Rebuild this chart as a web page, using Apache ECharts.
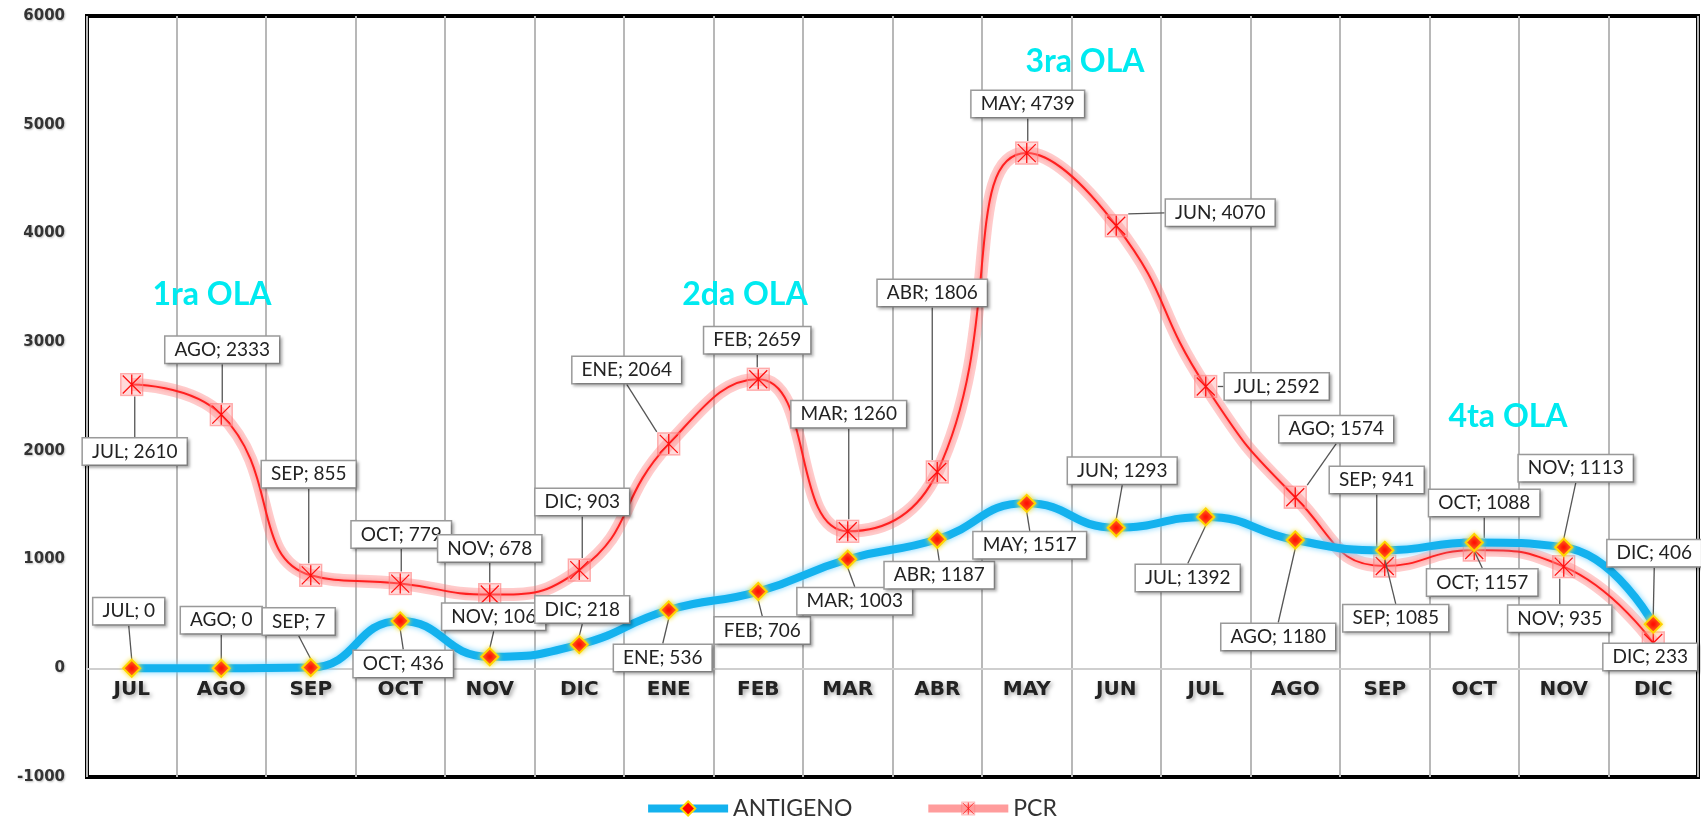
<!DOCTYPE html>
<html>
<head>
<meta charset="utf-8">
<script src="https://cdn.jsdelivr.net/npm/echarts@6/dist/echarts.min.js"></script>
<style>
  html, body { margin: 0; padding: 0; background: #fff; }
  #chart { width: 1701px; height: 827px; }
</style>
</head>
<body>
<div id="chart"></div>
<script>
// months (two years, Jul -> Dic)
var months = ['JUL', 'AGO', 'SEP', 'OCT', 'NOV', 'DIC', 'ENE', 'FEB', 'MAR', 'ABR', 'MAY', 'JUN', 'JUL', 'AGO', 'SEP', 'OCT', 'NOV', 'DIC'];
var antigeno = [0, 0, 7, 436, 106, 218, 536, 706, 1003, 1187, 1517, 1293, 1392, 1180, 1085, 1157, 1113, 406];
var pcr = [2610, 2333, 855, 779, 678, 903, 2064, 2659, 1260, 1806, 4739, 4070, 2592, 1574, 941, 1088, 935, 233];
var yTicks = { min: -1000, max: 6000, step: 1000 };
var waves = ['1ra OLA', '2da OLA', '3ra OLA', '4ta OLA'];

// where each callout box sits relative to its point (px)
var antOffsets = [[-3, -57], [0, -48], [-12, -46], [3, 43], [4, -40], [3, -35], [-6, 48], [4, 39], [7, 42],
  [2, 36], [3, 42], [6, -57], [-18, 61], [-17, 97], [11, 68], [8, 40], [12, -79], [1, -71]];
var pcrOffsets = [[3, 67], [1, -65], [-2, -101], [1, -49], [0, -46], [3, -68], [-42, -74], [-1, -39], [1, -117],
  [-5, -179], [1, -49], [104, -13], [71, 0], [41, -68], [-8, -86], [10, -47], [-4, 52], [-3, 14]];
var wavePos = [[212, 295], [745, 295], [1085, 62], [1508, 417]];

var pcrSymbol = 'image://data:image/svg+xml;charset=utf-8,' + encodeURIComponent(
  "<svg xmlns='http://www.w3.org/2000/svg' width='24' height='24'>" +
  "<rect x='1' y='1' width='22' height='22' fill='rgba(255,150,150,0.35)' stroke='rgba(255,120,120,0.55)' stroke-width='1.5'/>" +
  "<path d='M3 3L21 21M21 3L3 21M12 2V22' stroke='#ff1010' stroke-width='1.3'/></svg>");

var chart = echarts.init(document.getElementById('chart'));

var gridTop = 16, gridBottom = 50;
var plotH = 827 - gridTop - gridBottom;
// move the category axis up so it sits on the zero line
var zeroOffset = -plotH * (0 - yTicks.min) / (yTicks.max - yTicks.min);

var labelStyle = {
  show: true,
  position: 'inside',
  formatter: '{b}; {c}',
  fontFamily: 'Lato',
  fontSize: 19,
  color: '#222',
  backgroundColor: '#fff',
  borderColor: '#9a9a9a',
  borderWidth: 1.5,
  padding: [4, 9, 3, 9],
  shadowColor: 'rgba(0,0,0,0.25)',
  shadowBlur: 3,
  shadowOffsetX: 2,
  shadowOffsetY: 2
};
var leader = { show: true, lineStyle: { color: '#555', width: 1.3 } };

var option = {
  animation: false,
  grid: {
    left: 87, top: gridTop, right: 3, bottom: gridBottom,
    show: true, borderColor: '#000', borderWidth: 4
  },
  legend: {
    bottom: 2,
    left: 'center',
    itemWidth: 80,
    itemHeight: 18,
    itemGap: 72,
    textStyle: { fontFamily: 'Lato', fontSize: 23, color: '#333' },
    data: [
      { name: 'ANTIGENO', lineStyle: { width: 8, color: '#14b2ee' } },
      { name: 'PCR', lineStyle: { width: 8, color: 'rgba(255,90,90,0.6)' } }
    ]
  },
  xAxis: {
    type: 'category',
    data: months,
    boundaryGap: true,
    offset: zeroOffset,
    axisLine: { onZero: false, lineStyle: { color: '#cfcfcf', width: 2 } },
    axisTick: { show: false },
    axisLabel: {
      margin: 12,
      fontFamily: 'DejaVu Sans',
      fontWeight: 'bold',
      fontSize: 20,
      color: '#222',
      textShadowColor: 'rgba(0,0,0,0.35)',
      textShadowBlur: 4,
      textShadowOffsetX: 2,
      textShadowOffsetY: 2
    },
    splitLine: { show: true, lineStyle: { color: '#b8b8b8', width: 2 } }
  },
  yAxis: {
    type: 'value',
    min: yTicks.min,
    max: yTicks.max,
    interval: yTicks.step,
    axisLine: { show: false },
    axisTick: { show: false },
    splitLine: { show: false },
    axisLabel: {
      margin: 22,
      formatter: function (v) { return String(v); },
      fontFamily: 'DejaVu Sans',
      fontWeight: 'bold',
      fontSize: 15,
      color: '#333',
      textShadowColor: 'rgba(0,0,0,0.25)',
      textShadowBlur: 2,
      textShadowOffsetX: 1,
      textShadowOffsetY: 1
    }
  },
  series: [
    {
      name: 'ANTIGENO',
      type: 'line',
      data: antigeno,
      smooth: 0.5,
      z: 4,
      symbol: 'diamond',
      symbolSize: 17,
      lineStyle: { color: '#14b2ee', width: 8, shadowColor: '#72d2ff', shadowBlur: 6 },
      itemStyle: { color: '#ff0000', borderColor: '#ffd400', borderWidth: 2, shadowColor: '#ffe040', shadowBlur: 5 },
      label: labelStyle,
      labelLine: leader
    },
    {
      // soft pink band under the PCR line
      name: 'PCR halo',
      type: 'line',
      data: pcr,
      smooth: 0.5,
      z: 2,
      silent: true,
      symbol: 'none',
      lineStyle: { color: 'rgba(255,120,120,0.38)', width: 13 }
    },
    {
      name: 'PCR',
      type: 'line',
      data: pcr,
      smooth: 0.5,
      z: 3,
      symbol: pcrSymbol,
      symbolSize: 24,
      lineStyle: { color: '#ff2020', width: 2, shadowColor: 'rgba(255,60,60,0.6)', shadowBlur: 4 },
      itemStyle: { color: '#ff5050' },
      label: labelStyle,
      labelLine: leader
    }
  ],
  labelLayout: function (params) {
    var offs = params.seriesIndex === 0 ? antOffsets : pcrOffsets;
    var o = offs[params.dataIndex] || [0, -40];
    return { dx: o[0], dy: o[1] };
  },
  graphic: waves.map(function (txt, i) {
    return {
      type: 'text',
      x: wavePos[i][0],
      y: wavePos[i][1],
      z: 100,
      style: {
        text: txt,
        align: 'center',
        verticalAlign: 'middle',
        font: 'bold 32px Lato',
        fill: '#00eaf0',
        shadowColor: 'rgba(0,90,90,0.45)',
        shadowBlur: 3,
        shadowOffsetX: 1,
        shadowOffsetY: 1
      }
    };
  })
};

chart.setOption(option);
</script>
</body>
</html>
